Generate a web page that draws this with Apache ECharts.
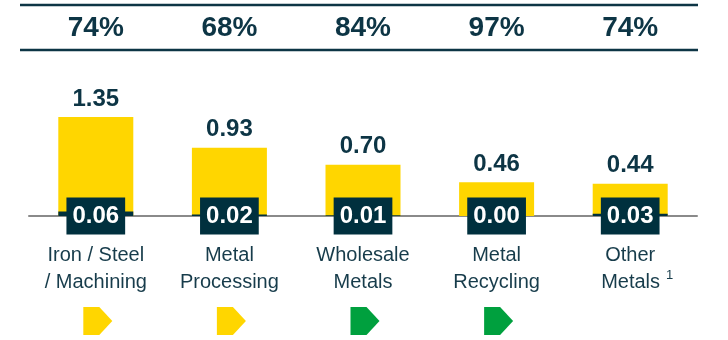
<!DOCTYPE html>
<html>
<head>
<meta charset="utf-8">
<script src="https://cdn.jsdelivr.net/npm/echarts@6/dist/echarts.min.js"></script>
<style>
  html, body { margin: 0; padding: 0; background: #ffffff; }
  #chart { width: 728px; height: 340px; }
</style>
</head>
<body>
<div id="chart"></div>
<script>
// Segment categories (line breaks as printed under the axis)
const categories = ['Iron / Steel\n/ Machining', 'Metal\nProcessing', 'Wholesale\nMetals', 'Metal\nRecycling', 'Other\nMetals'];
// Footnote marker per category (null = none)
const footnotes = [null, null, null, null, '1'];
// Header share per category
const shareLabels = ['74%', '68%', '84%', '97%', '74%'];
// Total value per category (yellow bars)
const totalValues = [1.35, 0.93, 0.70, 0.46, 0.44];
// Sub-value per category (dark bars with boxed labels)
const subValues = [0.06, 0.02, 0.01, 0.00, 0.03];
// Status indicator per category (null = no indicator)
const statuses = ['amber', 'amber', 'green', 'green', null];

const NAVY = '#0d3545';
const BOX = '#00303e';
const YELLOW = '#FFD600';
const statusColors = { amber: '#FFD600', green: '#00A03E' };
const FONT = '"Liberation Sans", Arial, Helvetica, sans-serif';

const chart = echarts.init(document.getElementById('chart'), null, { renderer: 'canvas' });

const gridLR = { left: 29, right: 31 };

chart.setOption({
  animation: false,
  textStyle: { fontFamily: FONT },
  graphic: [
    { type: 'line', shape: { x1: 20, y1: 5, x2: 698, y2: 5 }, style: { stroke: NAVY, lineWidth: 2.5 } },
    { type: 'line', shape: { x1: 20, y1: 50, x2: 698, y2: 50 }, style: { stroke: NAVY, lineWidth: 2.5 } }
  ],
  grid: [
    Object.assign({ top: 106, height: 110 }, gridLR),
    Object.assign({ top: 307, height: 28 }, gridLR),
    Object.assign({ top: 5, height: 45 }, gridLR)
  ],
  xAxis: [
    {
      gridIndex: 0,
      type: 'category',
      data: categories,
      axisLine: { lineStyle: { color: '#8a8a8a', width: 2 } },
      axisTick: { show: false },
      axisLabel: {
        margin: 26,
        interval: 0,
        color: '#173c4b',
        fontFamily: FONT,
        fontSize: 20,
        lineHeight: 27,
        formatter: function (value, idx) {
          const note = footnotes[idx];
          if (!note) return value;
          const lines = value.split('\n');
          return lines[0] + '\n{pad|}' + lines[1] + '{sup|' + note + '}';
        },
        rich: {
          pad: { width: 14, fontSize: 20, lineHeight: 27 },
          sup: { fontSize: 13, verticalAlign: 'top', lineHeight: 27, padding: [0, 0, 0, 6], color: '#173c4b', fontFamily: FONT }
        }
      }
    },
    { gridIndex: 1, type: 'category', data: categories, show: false },
    { gridIndex: 2, type: 'category', data: categories, show: false }
  ],
  yAxis: [
    { gridIndex: 0, type: 'value', min: 0, max: 1.5, show: false },
    { gridIndex: 1, type: 'value', min: 0, max: 1, show: false },
    { gridIndex: 2, type: 'value', min: 0, max: 1, show: false }
  ],
  series: [
    {
      name: 'Total',
      type: 'bar',
      xAxisIndex: 0,
      yAxisIndex: 0,
      barWidth: 75,
      data: totalValues,
      itemStyle: { color: YELLOW },
      label: {
        show: true,
        position: 'top',
        distance: 6,
        color: NAVY,
        fontFamily: FONT,
        fontWeight: 'bold',
        fontSize: 24,
        formatter: p => p.value.toFixed(2)
      },
      z: 2
    },
    {
      name: 'Sub',
      type: 'bar',
      xAxisIndex: 0,
      yAxisIndex: 0,
      barWidth: 75,
      barGap: '-100%',
      data: subValues,
      itemStyle: { color: BOX },
      label: {
        show: true,
        position: ['50%', '100%'],
        align: 'center',
        verticalAlign: 'middle',
        backgroundColor: BOX,
        padding: [6, 6, 6, 6],
        lineHeight: 25,
        color: '#ffffff',
        fontFamily: FONT,
        fontWeight: 'bold',
        fontSize: 24,
        formatter: p => p.value.toFixed(2)
      },
      z: 3
    },
    {
      name: 'Status',
      type: 'scatter',
      xAxisIndex: 1,
      yAxisIndex: 1,
      symbol: 'path://M0,0 L16,0 L29,14 L16,28 L0,28 Z',
      symbolSize: [29, 28],
      symbolOffset: [2, 0],
      itemStyle: { opacity: 1 },
      data: statuses.map((s, i) => s ? { value: [i, 0.5], itemStyle: { color: statusColors[s], opacity: 1 } } : null).filter(Boolean),
      silent: true
    },
    {
      name: 'Share',
      type: 'scatter',
      xAxisIndex: 2,
      yAxisIndex: 2,
      symbolSize: 0,
      itemStyle: { opacity: 1 },
      data: shareLabels.map((s, i) => [i, 0.5]),
      label: {
        show: true,
        position: 'inside',
        offset: [0, 1],
        opacity: 1,
        color: NAVY,
        fontFamily: FONT,
        fontWeight: 'bold',
        fontSize: 28,
        formatter: p => shareLabels[p.dataIndex]
      },
      silent: true
    }
  ]
});
</script>
</body>
</html>
